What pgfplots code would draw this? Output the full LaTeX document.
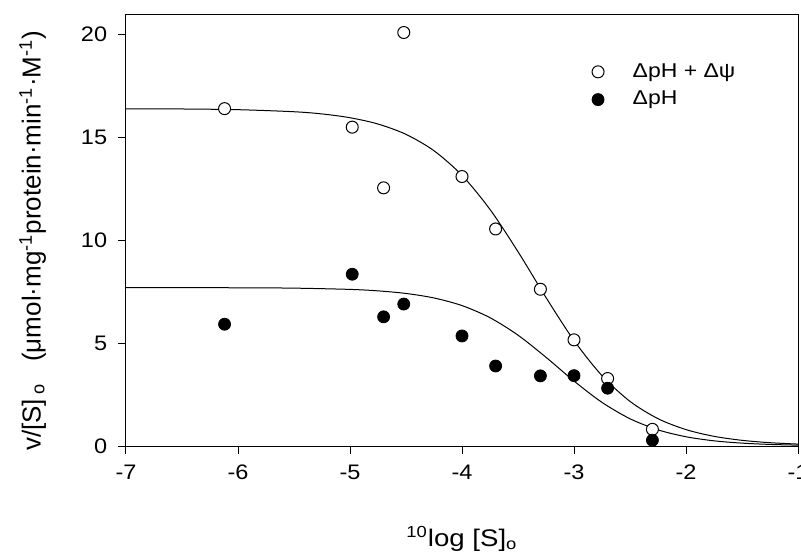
\documentclass[border=0pt]{standalone}
\usepackage{fontspec}
\setmainfont{Liberation Sans}
\usepackage{pgfplots}
\pgfplotsset{compat=1.18}

\begin{document}
\begin{tikzpicture}
\begin{axis}[name=ax, scale only axis, width=336pt, height=216pt,
  xmin=-7, xmax=-1, ymin=0, ymax=21,
  xtick={-7,-6,-5,-4,-3,-2,-1}, xticklabels={-7,-6,-5,-4,-3,-2,-1},
  ytick={0,5,10,15,20}, yticklabels={0,5,10,15,20},
  xtick pos=bottom, ytick pos=left, tick align=outside,
  major tick length=3.8pt,
  axis line style={line width=0.5pt},
  every tick/.style={black, line width=0.5pt},
  ticklabel style={font=\fontsize{10.5}{12}\selectfont, xscale=1.12},
  xticklabel style={yshift=-2pt},
  yticklabel style={xshift=-1.5pt},
  xlabel={\textsuperscript{10}log [S]\textsubscript{o}},
  ylabel={v/[S]\,\textsubscript{o}\ \ \ (μmol·mg\textsuperscript{-1}protein·min\textsuperscript{-1}·M\textsuperscript{-1})},
  xlabel style={font=\fontsize{12}{14}\selectfont, xscale=1.15, at={(axis description cs:0.5,-0.2315)}, anchor=base},
  ylabel style={font=\fontsize{13}{15}\selectfont, at={(axis description cs:-0.127,0.475)}, anchor=base},
  legend style={draw=none, fill=none, at={(rel axis cs:0.684,0.905)}, anchor=north west,
    font=\fontsize{10}{12}\selectfont, row sep=1.5pt,
    nodes={xscale=1.15},
    /tikz/every odd column/.append style={column sep=12pt}},
  legend cell align=left,
]
% fitted curves
\addplot[black, line width=0.5pt, smooth, forget plot] coordinates {
(-7,16.394) (-6.5,16.383) (-6,16.349) (-5.5,16.249) (-5.25,16.142) (-5,15.958)
(-4.75,15.652) (-4.5,15.149) (-4.25,14.352) (-4,13.156) (-3.75,11.499) (-3.5,9.446)
(-3.25,7.218) (-3,5.128) (-2.75,3.419) (-2.5,2.169) (-2.25,1.329) (-2,0.797)
(-1.75,0.471) (-1.5,0.276) (-1.25,0.161) (-1,0.093)};
\addplot[black, line width=0.5pt, smooth, forget plot] coordinates {
(-7,7.699) (-6,7.692) (-5.5,7.674) (-5,7.613) (-4.75,7.542) (-4.5,7.416)
(-4.25,7.196) (-4,6.826) (-3.75,6.238) (-3.5,5.388) (-3.25,4.313) (-3,3.159)
(-2.75,2.121) (-2.5,1.325) (-2.25,0.785) (-2,0.450) (-1.75,0.252) (-1.5,0.140)
(-1.25,0.077) (-1,0.042)};
% data
\addplot[only marks, mark=*, mark size=3pt, mark options={draw=black, fill=white, line width=0.5pt}] coordinates {
(-6.12,16.4) (-4.98,15.5) (-4.7,12.55) (-4.52,20.1) (-4.0,13.1) (-3.7,10.55)
(-3.3,7.62) (-3.0,5.16) (-2.7,3.28) (-2.3,0.81)};
\addlegendentry{ΔpH + Δψ}
\addplot[only marks, mark=*, mark size=3pt, mark options={draw=black, fill=black}] coordinates {
(-6.12,5.92) (-4.98,8.35) (-4.7,6.28) (-4.52,6.9) (-4.0,5.35) (-3.7,3.89)
(-3.3,3.41) (-3.0,3.42) (-2.7,2.81) (-2.3,0.28)};
\addlegendentry{ΔpH}
\end{axis}
\pgfresetboundingbox
\path[use as bounding box] (ax.south west) ++(-63pt,-53.5pt) rectangle ([shift={(1.5pt,7pt)}]ax.north east);
\end{tikzpicture}
\end{document}
